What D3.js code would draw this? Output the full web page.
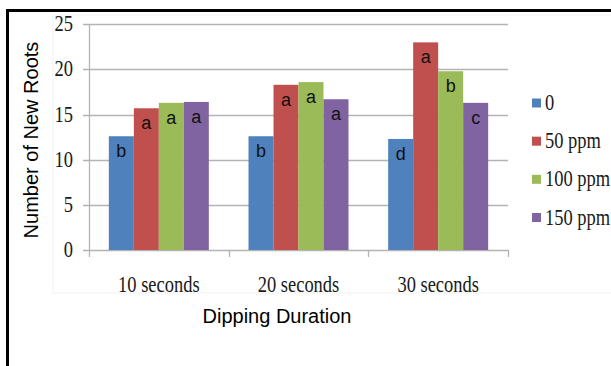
<!DOCTYPE html>
<html><head><meta charset="utf-8">
<script src="https://cdn.jsdelivr.net/npm/d3@7"></script>
<style>body{margin:0;background:#fff}</style>
</head><body>
<svg id="c" width="611" height="366"></svg>
<script>
const categories = ["10 seconds", "20 seconds", "30 seconds"];
const seriesNames = ["0", "50 ppm", "100 ppm", "150 ppm"];
const seriesColors = ["#4F81BD", "#C0504D", "#9BBB59", "#8064A2"];
const values0 = [12.6, 12.6, 12.3];
const values50 = [15.7, 18.3, 23.0];
const values100 = [16.3, 18.6, 19.8];
const values150 = [16.4, 16.7, 16.3];
const letters0 = ["b", "b", "d"];
const letters50 = ["a", "a", "a"];
const letters100 = ["a", "a", "b"];
const letters150 = ["a", "a", "c"];
const yTicks = [0, 5, 10, 15, 20, 25];

const seriesValues = [values0, values50, values100, values150];
const seriesLetters = [letters0, letters50, letters100, letters150];

const svg = d3.select("#c");
const m = {left: 89, right: 508, top: 24.3, bottom: 250};

// faint chart area border
svg.append("rect").attr("x", 53).attr("y", 15).attr("width", 570).attr("height", 278)
  .attr("fill", "none").attr("stroke", "#f1f1f1");

const x = d3.scaleBand().domain(categories).range([m.left, m.right]);
const groupW = 100;
const xi = d3.scaleBand().domain(seriesNames).range([(x.bandwidth() - groupW) / 2, (x.bandwidth() + groupW) / 2]);
const y = d3.scaleLinear().domain([0, 25]).range([m.bottom, m.top]);

// gridlines
svg.append("g").selectAll("line").data(yTicks).join("line")
  .attr("x1", 83).attr("x2", m.right)
  .attr("y1", d => Math.round(y(d)) + 0.5).attr("y2", d => Math.round(y(d)) + 0.5)
  .attr("stroke", "#b3b3b3").attr("stroke-width", 1.3);

// y axis line
svg.append("line").attr("x1", m.left + 0.5).attr("x2", m.left + 0.5)
  .attr("y1", y(25)).attr("y2", y(0)).attr("stroke", "#b3b3b3").attr("stroke-width", 1.3);

// x tick marks
const bounds = [m.left].concat(categories.map(c => x(c) + x.bandwidth()));
svg.append("g").selectAll("line").data(bounds).join("line")
  .attr("x1", d => Math.round(d) + 0.5).attr("x2", d => Math.round(d) + 0.5)
  .attr("y1", y(0)).attr("y2", y(0) + 7)
  .attr("stroke", "#b3b3b3").attr("stroke-width", 1.3);

// bars
seriesNames.forEach((s, si) => {
  const g = svg.append("g");
  g.selectAll("rect").data(categories).join("rect")
    .attr("x", c => x(c) + xi(s))
    .attr("width", xi.bandwidth())
    .attr("y", (c, i) => y(seriesValues[si][i]))
    .attr("height", (c, i) => y(0) - y(seriesValues[si][i]))
    .attr("fill", seriesColors[si]);
  g.selectAll("text").data(categories).join("text")
    .attr("x", c => x(c) + xi(s) + xi.bandwidth() / 2)
    .attr("y", (c, i) => y(seriesValues[si][i]) + 21)
    .attr("text-anchor", "middle")
    .attr("font-family", "Liberation Sans, Arial, sans-serif")
    .attr("font-size", 18).attr("fill", "#111")
    .text((c, i) => seriesLetters[si][i]);
});

// serif text helper (narrow Times look)
function serif(txt, px, py, anchor, size, sx) {
  svg.append("text")
    .attr("transform", `translate(${px},${py}) scale(${sx},1.08)`)
    .attr("text-anchor", anchor)
    .attr("font-family", "Liberation Serif, Times New Roman, serif")
    .attr("font-size", size).attr("fill", "#1a1a1a")
    .text(txt);
}

// y tick labels
yTicks.forEach(t => serif(String(t), 73, y(t) + 7, "end", 21, 0.88));
// x tick labels
categories.forEach(c => serif(c, x(c) + x.bandwidth() / 2, 292, "middle", 21, 0.88));

// axis titles
svg.append("text").attr("transform", "translate(38,140) rotate(-90)")
  .attr("text-anchor", "middle").attr("font-family", "Liberation Sans, Arial, sans-serif")
  .attr("font-size", 20).attr("fill", "#000").text("Number of New Roots");
svg.append("text").attr("x", 277).attr("y", 323)
  .attr("text-anchor", "middle").attr("font-family", "Liberation Sans, Arial, sans-serif")
  .attr("font-size", 20).attr("fill", "#000").text("Dipping Duration");

// legend
const legY = d3.scalePoint().domain(seriesNames).range([103, 217.5]);
seriesNames.forEach((s, si) => {
  svg.append("rect").attr("x", 532).attr("y", legY(s) - 4.5).attr("width", 9).attr("height", 9)
    .attr("fill", seriesColors[si]);
  serif(s, 545, legY(s) + 7, "start", 21, 0.88);
});

// outer frame
svg.append("line").attr("x1", 6).attr("x2", 611).attr("y1", 10.5).attr("y2", 10.5)
  .attr("stroke", "#000").attr("stroke-width", 3);
svg.append("line").attr("x1", 7.5).attr("x2", 7.5).attr("y1", 9).attr("y2", 366)
  .attr("stroke", "#000").attr("stroke-width", 3);
</script>
</body></html>
